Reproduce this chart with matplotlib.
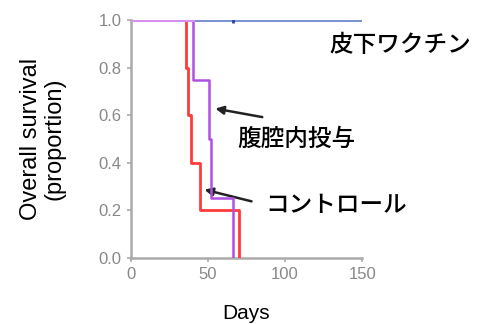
import numpy as np
import matplotlib.pyplot as plt

plt.rcParams['font.family'] = ['Liberation Sans', 'Noto Sans CJK JP', 'DejaVu Sans']

# Kaplan-Meier step data (days, survival proportion)
ctrl_days = [0, 36, 37, 39, 45, 70]
ctrl_surv = [1.0, 0.8, 0.6, 0.4, 0.2, 0.0]

ip_days = [0, 40, 51, 52, 66]
ip_surv = [1.0, 0.75, 0.5, 0.25, 0.0]

sc_days = [0, 150]
sc_surv = [1.0, 1.0]
sc_censor = [66]

xticks = [0, 50, 100, 150]
yticks = [0.0, 0.2, 0.4, 0.6, 0.8, 1.0]

fig = plt.figure(figsize=(4.81, 3.24), dpi=100)
ax = fig.add_axes([0.272, 0.204, 0.481, 0.734])

ax.step(sc_days, sc_surv, where='post', color='#7b93d0', lw=2.2, zorder=2)
ax.plot(sc_censor, [1.0], marker='|', color='#3040b0', ms=5, mew=2, zorder=3)
ax.step(ctrl_days, ctrl_surv, where='post', color='#ff3a3a', lw=2.0, zorder=3)
ax.step(ip_days, ip_surv, where='post', color='#b050e0', lw=1.8, zorder=4)
# purple overlays the flat top until its first drop
ax.plot([0, ip_days[1]], [1.0, 1.0], color='#d890f0', lw=2.2, zorder=4)

ax.set_xlim(0, 150)
ax.set_ylim(0, 1.0)
ax.set_xticks(xticks)
ax.set_yticks(yticks)
ax.set_yticklabels(['{:.1f}'.format(v) for v in yticks])

for s in ['top', 'right']:
    ax.spines[s].set_visible(False)
for s in ['left', 'bottom']:
    ax.spines[s].set_color('#aaaaaa')
    ax.spines[s].set_linewidth(1.8)
ax.tick_params(colors='#aaaaaa', labelcolor='#888888', labelsize=12, length=3, width=1.2)

ax.set_xlabel('Days', fontsize=15, labelpad=16)
ax.set_ylabel('Overall survival\n(proportion)', fontsize=17, labelpad=24, linespacing=1.05)

jp = dict(fontsize=17, family=['Noto Sans CJK JP', 'DejaVu Sans'], va='center', ha='left',
          weight='medium')
ax.text(129, 0.895, '皮下ワクチン', clip_on=False, **jp)
ax.text(69, 0.50, '腹腔内投与', clip_on=False, **jp)
ax.text(87, 0.22, 'コントロール', clip_on=False, **jp)

arrow = dict(arrowstyle='-|>', color='#222222', lw=1.8, mutation_scale=12)
ax.annotate('', xy=(53, 0.63), xytext=(87, 0.59), arrowprops=arrow)
ax.annotate('', xy=(46, 0.29), xytext=(80, 0.235), arrowprops=arrow)

fig.savefig('out.png', dpi=100)
